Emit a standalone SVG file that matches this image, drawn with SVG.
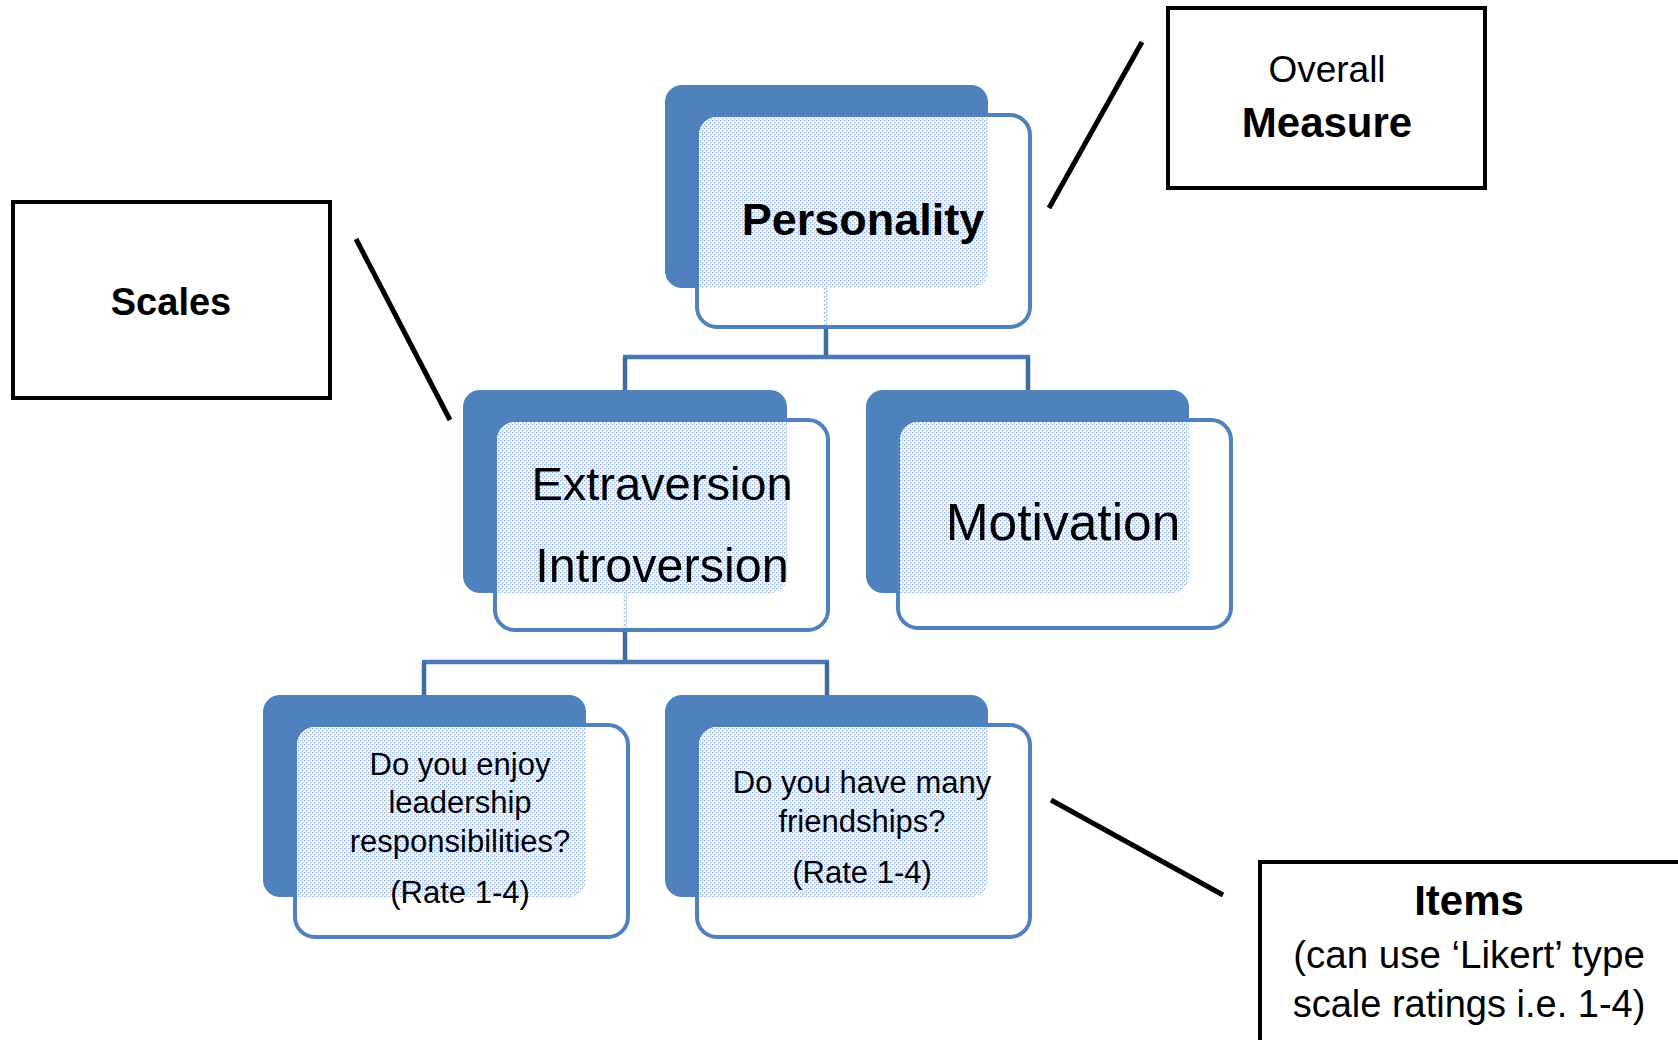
<svg xmlns="http://www.w3.org/2000/svg" width="1678" height="1040" viewBox="0 0 1678 1040">
<defs>
<pattern id="dots" width="4" height="4" patternUnits="userSpaceOnUse">
<rect width="4" height="4" fill="#ffffff"/>
<rect x="0" y="0" width="1.4" height="1.4" fill="#93afda"/>
<rect x="2" y="2" width="1.4" height="1.4" fill="#93afda"/>
<rect x="2" y="0" width="1" height="1" fill="#cbd8ee"/>
</pattern>
<clipPath id="c1"><rect x="699" y="117" width="329" height="208" rx="18"/></clipPath>
<clipPath id="c2"><rect x="497" y="422" width="329" height="206" rx="18"/></clipPath>
<clipPath id="c3"><rect x="900" y="422" width="329" height="204" rx="18"/></clipPath>
<clipPath id="c4"><rect x="297" y="727" width="329" height="208" rx="18"/></clipPath>
<clipPath id="c5"><rect x="699" y="727" width="329" height="208" rx="18"/></clipPath>
</defs>
<style>
.back{fill:#4f81bd;}
.front{fill:#ffffff;stroke:#4f81bd;stroke-width:4;}
.tex{fill:url(#dots);}
.t{font-family:"Liberation Sans",Arial,sans-serif;fill:#000;text-anchor:middle;}
.b{font-weight:bold;}
.box{fill:#ffffff;stroke:#000;stroke-width:4;}
.ann{stroke:#000;stroke-width:5;fill:none;}
.h{stroke:#4a7bb7;stroke-width:4.5;fill:none;}
.v{stroke:#3f6b9f;stroke-width:4.5;fill:none;}
</style>
<rect width="1678" height="1040" fill="#ffffff"/>

<g id="connectors">
<line class="v" x1="826" y1="325" x2="826" y2="357"/>
<line class="h" x1="623" y1="357" x2="1030" y2="357"/>
<line class="v" x1="625" y1="357" x2="625" y2="390"/>
<line class="v" x1="1028" y1="357" x2="1028" y2="390"/>
<line class="v" x1="625" y1="628" x2="625" y2="662"/>
<line class="h" x1="422" y1="662" x2="829" y2="662"/>
<line class="v" x1="424" y1="662" x2="424" y2="695"/>
<line class="v" x1="827" y1="662" x2="827" y2="695"/>
<line class="ann" x1="1142" y1="42" x2="1049" y2="208"/>
<line class="ann" x1="356" y1="239" x2="450" y2="420"/>
<line class="ann" x1="1051" y1="800" x2="1223" y2="895"/>
</g>

<g id="node-personality">
<rect class="back" x="665" y="85" width="323" height="203" rx="17"/>
<rect class="front" x="697" y="115" width="333" height="212" rx="20"/>
<rect class="tex" x="665" y="85" width="323" height="203" rx="17" clip-path="url(#c1)"/>
<rect class="tex" x="824" y="288" width="4" height="37"/>
<text class="t b" x="863" y="235" font-size="45">Personality</text>
</g>

<g id="node-extraversion">
<rect class="back" x="463" y="390" width="324" height="203" rx="17"/>
<rect class="front" x="495" y="420" width="333" height="210" rx="20"/>
<rect class="tex" x="463" y="390" width="324" height="203" rx="17" clip-path="url(#c2)"/>
<rect class="tex" x="623" y="593" width="4" height="35"/>
<text class="t" x="662" y="500" font-size="47">Extraversion</text>
<text class="t" x="662" y="582" font-size="48.5">Introversion</text>
</g>

<g id="node-motivation">
<rect class="back" x="866" y="390" width="323" height="203" rx="17"/>
<rect class="front" x="898" y="420" width="333" height="208" rx="20"/>
<rect class="tex" x="866" y="390" width="323" height="203" rx="17" clip-path="url(#c3)"/>
<text class="t" x="1063" y="540" font-size="51.5">Motivation</text>
</g>

<g id="node-leadership">
<rect class="back" x="263" y="695" width="323" height="202" rx="17"/>
<rect class="front" x="295" y="725" width="333" height="212" rx="20"/>
<rect class="tex" x="263" y="695" width="323" height="202" rx="17" clip-path="url(#c4)"/>
<text class="t" x="460" y="775" font-size="31">Do you enjoy</text>
<text class="t" x="460" y="813" font-size="31">leadership</text>
<text class="t" x="460" y="852" font-size="31">responsibilities?</text>
<text class="t" x="460" y="903" font-size="31">(Rate 1-4)</text>
</g>

<g id="node-friendships">
<rect class="back" x="665" y="695" width="323" height="202" rx="17"/>
<rect class="front" x="697" y="725" width="333" height="212" rx="20"/>
<rect class="tex" x="665" y="695" width="323" height="202" rx="17" clip-path="url(#c5)"/>
<text class="t" x="862" y="793" font-size="31">Do you have many</text>
<text class="t" x="862" y="832" font-size="31">friendships?</text>
<text class="t" x="862" y="883" font-size="31">(Rate 1-4)</text>
</g>

<g id="label-overall">
<rect class="box" x="1168" y="8" width="317" height="180"/>
<text class="t" x="1327" y="82" font-size="37">Overall</text>
<text class="t b" x="1327" y="137" font-size="42">Measure</text>
</g>

<g id="label-scales">
<rect class="box" x="13" y="202" width="317" height="196"/>
<text class="t b" x="171" y="315" font-size="38">Scales</text>
</g>

<g id="label-items">
<rect class="box" x="1260" y="862" width="500" height="300"/>
<text class="t b" x="1469" y="915" font-size="42">Items</text>
<text class="t" x="1469" y="968" font-size="38.5">(can use ‘Likert’ type</text>
<text class="t" x="1469" y="1017" font-size="38">scale ratings i.e. 1-4)</text>
</g>
</svg>
